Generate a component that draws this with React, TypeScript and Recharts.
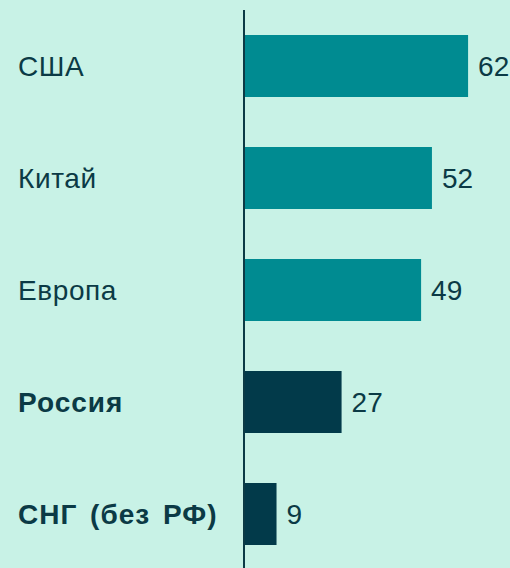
import { BarChart, Bar, XAxis, YAxis, Cell, LabelList } from "recharts";

const regions = ["США", "Китай", "Европа", "Россия", "СНГ (без РФ)"];
const values = [62, 52, 49, 27, 9];
const highlighted = [false, false, false, true, true];

const data = regions.map((name, i) => ({ name, value: values[i], bold: highlighted[i] }));

const TEXT = "#0b3a45";
const FONT = "Liberation Sans, Arial, sans-serif";

const RegionTick = (props: any) => {
  const { y, payload, index } = props;
  const bold = highlighted[index];
  return (
    <text
      x={18}
      y={y}
      dy={10}
      textAnchor="start"
      fill={TEXT}
      fontSize={28}
      fontWeight={bold ? 700 : 400}
      fontFamily={FONT}
      letterSpacing={bold ? 1 : 0.6}
      wordSpacing={4}
    >
      {payload.value}
    </text>
  );
};

export default function App() {
  return (
    <div
      style={{
        position: "fixed",
        left: 0,
        top: 0,
        width: 510,
        height: 568,
        overflow: "hidden",
        background: "#c8f2e6",
      }}
    >
      <BarChart
        width={510}
        height={570}
        data={data}
        layout="vertical"
        margin={{ top: 10, right: 13, bottom: 0, left: 0 }}
      >
        <XAxis type="number" domain={[0, 70]} hide />
        <YAxis
          type="category"
          dataKey="name"
          width={244}
          tickLine={false}
          axisLine={{ stroke: TEXT, strokeWidth: 2 }}
          tick={<RegionTick />}
          interval={0}
        />
        <Bar dataKey="value" barSize={62} isAnimationActive={false}>
          {data.map((d, i) => (
            <Cell key={i} fill={d.bold ? "#023a4a" : "#008b91"} />
          ))}
          <LabelList
            dataKey="value"
            position="right"
            offset={10}
            fill={TEXT}
            fontSize={28}
            fontFamily={FONT}
          />
        </Bar>
      </BarChart>
    </div>
  );
}
